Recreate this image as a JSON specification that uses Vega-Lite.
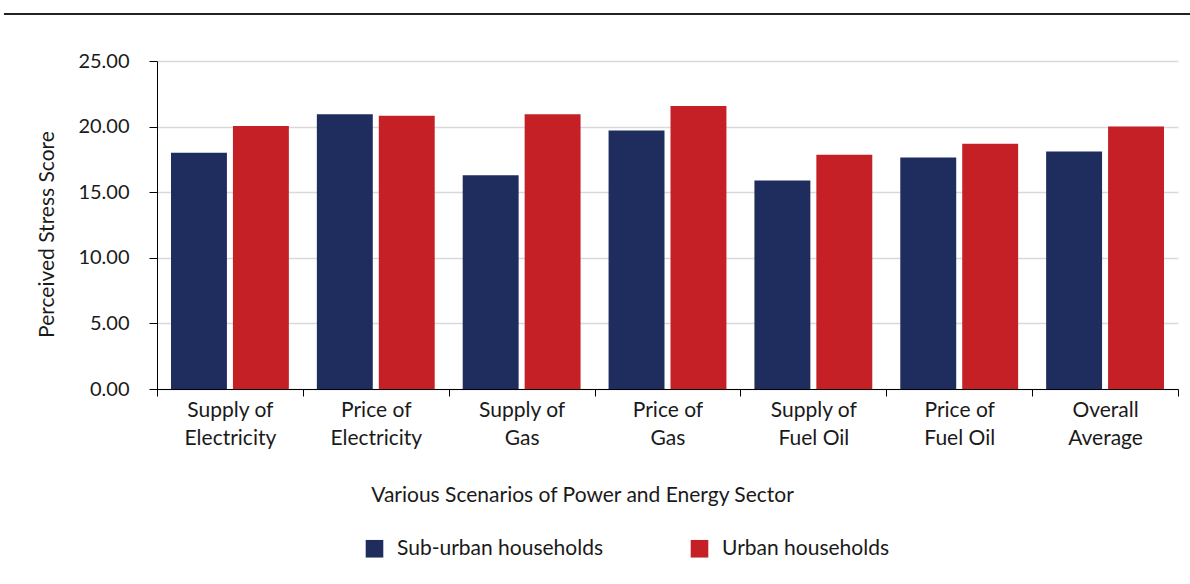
{
  "$schema": "https://vega.github.io/schema/vega-lite/v6.json",
  "width": 1021,
  "height": 328,
  "autosize": {"type": "none"},
  "padding": {"left": 157, "top": 61, "right": 12, "bottom": 195},
  "background": "white",
  "config": {"font": "Lato", "view": {"stroke": null}},
  "data": {
    "values": [
      {"scenario": "Supply of Electricity", "household": "Sub-urban households", "score": 18.0},
      {"scenario": "Supply of Electricity", "household": "Urban households", "score": 20.05},
      {"scenario": "Price of Electricity", "household": "Sub-urban households", "score": 20.95},
      {"scenario": "Price of Electricity", "household": "Urban households", "score": 20.82},
      {"scenario": "Supply of Gas", "household": "Sub-urban households", "score": 16.3},
      {"scenario": "Supply of Gas", "household": "Urban households", "score": 20.95},
      {"scenario": "Price of Gas", "household": "Sub-urban households", "score": 19.7},
      {"scenario": "Price of Gas", "household": "Urban households", "score": 21.57},
      {"scenario": "Supply of Fuel Oil", "household": "Sub-urban households", "score": 15.9},
      {"scenario": "Supply of Fuel Oil", "household": "Urban households", "score": 17.85},
      {"scenario": "Price of Fuel Oil", "household": "Sub-urban households", "score": 17.65},
      {"scenario": "Price of Fuel Oil", "household": "Urban households", "score": 18.7},
      {"scenario": "Overall Average", "household": "Sub-urban households", "score": 18.1},
      {"scenario": "Overall Average", "household": "Urban households", "score": 20.0}
    ]
  },
  "layer": [
    {
      "mark": {"type": "bar"},
      "encoding": {
        "x": {
          "field": "scenario",
          "type": "nominal",
          "sort": null,
          "scale": {"paddingInner": 0, "paddingOuter": 0},
          "axis": {
            "title": "Various Scenarios of Power and Energy Sector",
            "titleFontSize": 21,
            "titleFontWeight": "normal",
            "titleColor": "#1a1a1a",
            "titlePadding": 36,
            "titleX": 425,
            "titleAlign": "center",
            "labelAngle": 0,
            "labelFontSize": 21,
            "labelColor": "#1a1a1a",
            "labelLineHeight": 28,
            "labelPadding": 3,
            "labelExpr": "indexof(datum.label, ' of ') > 0 ? [substring(datum.label, 0, indexof(datum.label, ' of ') + 3), substring(datum.label, indexof(datum.label, ' of ') + 4)] : split(datum.label, ' ')",
            "tickBand": "extent",
            "tickSize": 7,
            "tickColor": "#000000",
            "domainColor": "#000000",
            "grid": false
          }
        },
        "xOffset": {
          "field": "household",
          "type": "nominal",
          "sort": ["Sub-urban households", "Urban households"],
          "scale": {"paddingInner": 0.097, "paddingOuter": 0.226}
        },
        "y": {
          "field": "score",
          "type": "quantitative",
          "scale": {"domain": [0, 25], "nice": false},
          "axis": {
            "title": "Perceived Stress Score",
            "titleFontSize": 21,
            "titleFontWeight": "normal",
            "titleColor": "#1a1a1a",
            "titlePadding": 20,
            "titleY": 173,
            "titleAlign": "center",
            "values": [0, 5, 10, 15, 20, 25],
            "format": ".2f",
            "labelFontSize": 20,
            "labelColor": "#1a1a1a",
            "labelPadding": 20,
            "tickSize": 8,
            "tickColor": "#000000",
            "domainColor": "#000000",
            "gridColor": "#d9d9d9",
            "gridWidth": 1.5
          }
        },
        "color": {
          "field": "household",
          "type": "nominal",
          "scale": {"domain": ["Sub-urban households", "Urban households"], "range": ["#1f2d5e", "#c52026"]},
          "legend": {
            "title": null,
            "orient": "none",
            "legendX": 207,
            "legendY": 477,
            "direction": "horizontal",
            "symbolType": "square",
            "symbolSize": 310,
            "symbolStrokeWidth": 0,
            "labelFontSize": 21,
            "labelColor": "#1a1a1a",
            "labelOffset": 12,
            "labelLimit": 400,
            "columnPadding": 85
          }
        }
      }
    },
    {
      "data": {"values": [{}]},
      "mark": {"type": "rule", "color": "#222222", "strokeWidth": 2},
      "encoding": {
        "x": {"datum": -0.1499, "type": "quantitative", "scale": {"domain": [0, 1]}, "axis": null},
        "x2": {"datum": 1.0118},
        "y": {"datum": 1.1433, "type": "quantitative", "scale": {"domain": [0, 1], "nice": false}, "axis": null}
      }
    }
  ],
  "resolve": {"scale": {"x": "independent", "y": "independent"}}
}
